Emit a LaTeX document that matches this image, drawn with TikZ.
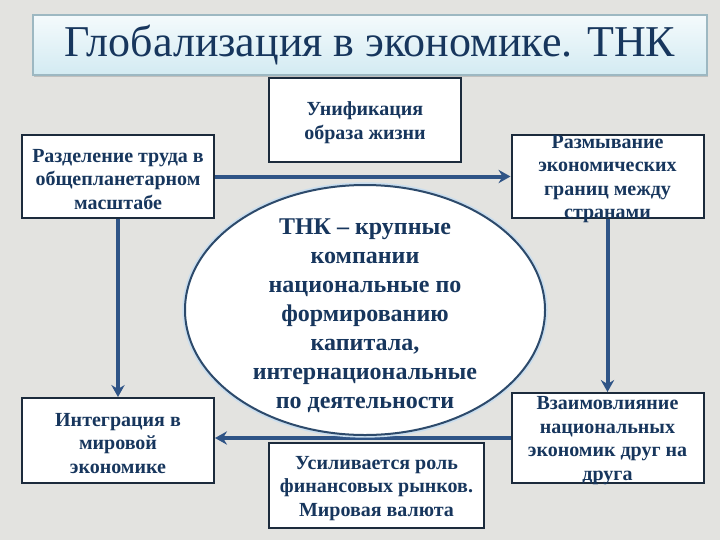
\documentclass[tikz,border=0pt]{standalone}
\usepackage{fontspec}
\setmainfont{Liberation Serif}
\usetikzlibrary{arrows.meta,positioning,shapes.geometric,shadows}
\definecolor{navy}{HTML}{17365D}
\definecolor{frame}{HTML}{1C2B3C}
\definecolor{flowcol}{HTML}{2F5486}
\definecolor{bgcol}{HTML}{E3E3E0}
\definecolor{titletop}{HTML}{F4FAFC}
\definecolor{titlebot}{HTML}{D3EBF2}
\definecolor{titleline}{HTML}{9DB8C2}
\definecolor{glow}{HTML}{C9DDEE}
\definecolor{ovalline}{HTML}{2D4A6B}
\tikzset{
  box/.style={draw=frame, line width=1.5pt, fill=white, inner sep=0pt,
              minimum width=144pt, minimum height=62pt},
  boxtxt/.style={font=\bfseries\fontsize{15}{17.6}\selectfont, text=navy,
                 align=center, inner sep=0pt},
  ovaltxt/.style={font=\bfseries\fontsize{18}{21.75}\selectfont, text=navy,
                  align=center, inner sep=0pt},
  oval/.style={ellipse, draw=ovalline, line width=1.5pt, fill=white, inner sep=0pt,
               preaction={draw=glow, line width=4pt}},
  titlebox/.style={draw=titleline, line width=0.8pt, top color=titletop,
                   bottom color=titlebot, inner sep=0pt,
                   drop shadow={shadow xshift=0.8pt, shadow yshift=-1.2pt, opacity=0.35},
                   font=\fontsize{33}{36}\selectfont, text=navy},
  flow/.style={-{Stealth[length=9pt,width=10pt,inset=3pt]}, line width=3pt, draw=flowcol}
}
\begin{document}
\begin{tikzpicture}[x=0.75pt,y=-0.75pt]
  % background
  \fill[bgcol] (0,0) rectangle (720,540);
  \useasboundingbox (0,0) rectangle (720,540);

  % title
  \node[titlebox, minimum width=505.5pt, minimum height=45pt] (title) at (370,45)
    {Глобализация в экономике. ТНК};

  % boxes
  \node[box] (razd) at (118,176.5) {};
  \node[box] (razm) at (607.5,176.5) {};
  \node[box, minimum height=63.75pt] (integ) at (118,440.5) {};
  \node[box, minimum height=67.5pt] (vzaim) at (607.5,438) {};

  % arrows
  \draw[flow] (razd.east) -- (razm.west);
  \draw[flow] (razd.south) -- (integ.north);
  \draw[flow] (razm.south) -- (vzaim.north);
  \draw[flow] (vzaim.west) -- (vzaim.west -| integ.east);

  % centre
  \node[oval, minimum width=270pt, minimum height=187.5pt] (tnk) at (365,310) {};
  \node[ovaltxt] at ([yshift=-4.5pt]tnk.center) {ТНК – крупные\\компании\\национальные по\\формированию\\капитала,\\интернациональные\\по деятельности};

  \node[box, minimum height=63pt] (uni) at (365,120) {};
  \node[box, minimum width=161.25pt, minimum height=63.75pt] (fin) at (376.5,485.5) {};

  % texts
  \node[boxtxt] at ([yshift=-2pt]uni.center) {Унификация\\образа жизни};
  \node[boxtxt] at ([yshift=-2pt]razd.center) {Разделение труда в\\общепланетарном\\масштабе};
  \node[boxtxt] at ([yshift=-2pt]razm.center) {Размывание\\экономических\\границ между\\странами};
  \node[boxtxt] at ([yshift=-2pt]integ.center) {Интеграция в\\мировой\\экономике};
  \node[boxtxt] at ([yshift=-2pt]vzaim.center) {Взаимовлияние\\национальных\\экономик друг на\\друга};
  \node[boxtxt] at ([yshift=-2pt]fin.center) {Усиливается роль\\финансовых рынков.\\Мировая валюта};
\end{tikzpicture}
\end{document}
